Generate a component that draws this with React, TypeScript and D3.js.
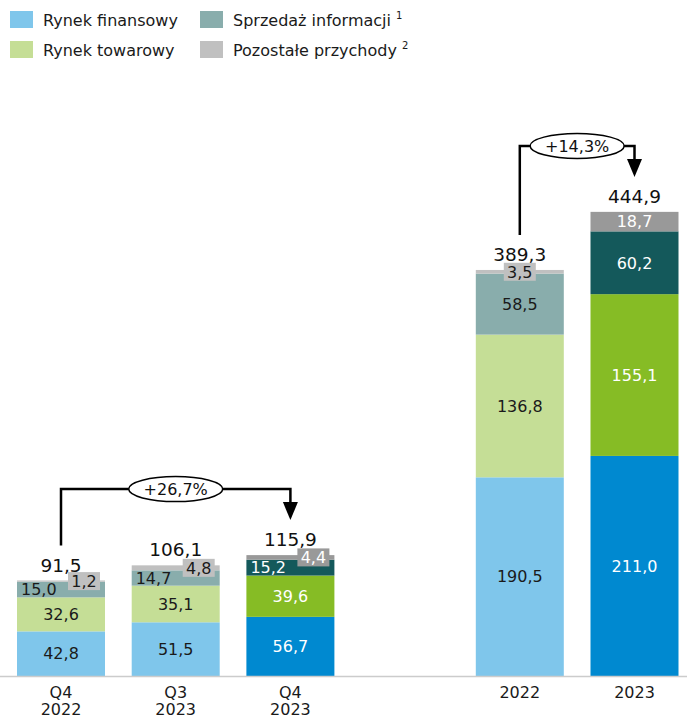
import React from "react";
import * as d3 from "d3";

// values (mln zł)
const categories = ["Q4 2022", "Q3 2023", "Q4 2023", "gap", "2022", "2023"];
const barCategories = ["Q4 2022", "Q3 2023", "Q4 2023", "2022", "2023"];
const tickLines = [["Q4", "2022"], ["Q3", "2023"], ["Q4", "2023"], ["2022"], ["2023"]];
const finansowy = [42.8, 51.5, 56.7, 190.5, 211.0];
const towarowy = [32.6, 35.1, 39.6, 136.8, 155.1];
const informacje = [15.0, 14.7, 15.2, 58.5, 60.2];
const pozostale = [1.2, 4.8, 4.4, 3.5, 18.7];
const totals = [91.5, 106.1, 115.9, 389.3, 444.9];
const highlighted = [false, false, true, false, true];
const growth = [
  { from: "Q4 2022", to: "Q4 2023", label: "+26,7%" },
  { from: "2022", to: "2023", label: "+14,3%" },
];

const seriesNames = ["Rynek finansowy", "Rynek towarowy", "Sprzedaż informacji", "Pozostałe przychody"];
const seriesNotes = ["", "", "1", "2"];
const lightColors = ["#7fc6eb", "#c5de96", "#89adac", "#c0c0c0"];
const darkColors = ["#0089d0", "#86bc25", "#14595b", "#999999"];

const W = 687;
const H = 719;
const font = "'DejaVu Sans', Verdana, sans-serif";
const fs = 16;

export default function App() {
  const x = d3.scalePoint<string>().domain(categories).range([61, 634.5]);
  const y = d3.scaleLinear().domain([0, 450]).range([676, 676 - 450 * 1.043]);
  const barW = 88;

  const series = [finansowy, towarowy, informacje, pozostale];
  const rows = barCategories.map((c, i) => {
    const o: any = { cat: c };
    series.forEach((s, k) => (o["s" + k] = s[i]));
    return o;
  });
  const stack = d3.stack<any>().keys(["s0", "s1", "s2", "s3"])(rows);
  const fmt = (v: number) => d3.format(".1f")(v).replace(".", ",");

  const legendPos = [
    [10, 11],
    [10, 41],
    [200, 11],
    [200, 41],
  ];

  return (
    <svg width={W} height={H} style={{ position: "absolute", left: 0, top: 0 }} fontFamily={font}>
      <rect width={W} height={H} fill="#fff" />

      {/* legend */}
      {seriesNames.map((n, k) => (
        <g key={n} transform={`translate(${legendPos[k][0]},${legendPos[k][1]})`}>
          <rect width={23} height={17} fill={lightColors[k]} />
          <text x={33} y={15} fontSize={fs} fill="#1a1a1a">
            {n}
            {seriesNotes[k] && (
              <tspan dx={5} dy={-7} fontSize={10}>
                {seriesNotes[k]}
              </tspan>
            )}
          </text>
        </g>
      ))}

      {/* bars */}
      {stack.map((layer, k) =>
        layer.map((d, i) => {
          const cat = barCategories[i];
          const cx = x(cat)!;
          const y0 = y(d[0]);
          const y1 = y(d[1]);
          const h = y0 - y1;
          const dark = highlighted[i];
          const fill = dark ? darkColors[k] : lightColors[k];
          const txtColor = dark ? "#fff" : "#1a1a1a";
          const mid = (y0 + y1) / 2;
          const val = fmt(series[k][i]);
          const compact = y(0) - y(informacje[i]) < 20;
          let label: React.ReactNode;
          if (h < 14) {
            // tiny segment: value in a small box of the segment colour
            const bw = 32;
            const bx = compact ? cx + barW / 2 - 5 - bw : cx - bw / 2;
            label = (
              <g>
                <rect x={bx} y={mid - 9} width={bw} height={18} fill={fill} />
                <text x={bx + bw / 2} y={mid} dy="0.36em" textAnchor="middle" fontSize={fs} fill={txtColor}>
                  {val}
                </text>
              </g>
            );
          } else if (k === 2 && compact) {
            label = (
              <text x={cx - barW / 2 + 4} y={mid} dy="0.36em" fontSize={fs} fill={txtColor}>
                {val}
              </text>
            );
          } else {
            label = (
              <text x={cx} y={mid} dy="0.36em" textAnchor="middle" fontSize={fs} fill={txtColor}>
                {val}
              </text>
            );
          }
          return (
            <g key={k + "-" + i}>
              <rect x={cx - barW / 2} y={y1} width={barW} height={h} fill={fill} />
              {label}
            </g>
          );
        })
      )}

      {/* totals */}
      {barCategories.map((c, i) => (
        <text key={c} x={x(c)} y={y(totals[i]) - 9} textAnchor="middle" fontSize={18.5} fill="#111">
          {fmt(totals[i])}
        </text>
      ))}

      {/* axis */}
      <line x1={0} x2={W} y1={y(0) + 0.5} y2={y(0) + 0.5} stroke="#cccccc" strokeWidth={1.5} />
      {barCategories.map((c, i) => (
        <text key={c} x={x(c)} y={698} textAnchor="middle" fontSize={fs} fill="#1a1a1a">
          {tickLines[i].map((t, j) => (
            <tspan key={j} x={x(c)} dy={j === 0 ? 0 : 17}>
              {t}
            </tspan>
          ))}
        </text>
      ))}

      {/* growth brackets */}
      {growth.map((g) => {
        const i0 = barCategories.indexOf(g.from);
        const i1 = barCategories.indexOf(g.to);
        const x0 = x(g.from)!;
        const x1 = x(g.to)!;
        const top0 = y(totals[i0]);
        const top1 = y(totals[i1]);
        const hy = Math.min(top0, top1) - 66;
        const tipY = top1 - 35;
        const mx = (x0 + x1) / 2;
        return (
          <g key={g.label}>
            <path
              d={`M${x0},${top0 - 35}V${hy}H${x1}V${tipY - 16}`}
              fill="none"
              stroke="#000"
              strokeWidth={2.5}
            />
            <path d={`M${x1 - 7.5},${tipY - 18}L${x1 + 7.5},${tipY - 18}L${x1},${tipY}Z`} fill="#000" />
            <ellipse cx={mx} cy={hy} rx={47} ry={12.5} fill="#fff" stroke="#000" strokeWidth={1.5} />
            <text x={mx} y={hy} dy="0.36em" textAnchor="middle" fontSize={fs} fill="#111">
              {g.label}
            </text>
          </g>
        );
      })}
    </svg>
  );
}
